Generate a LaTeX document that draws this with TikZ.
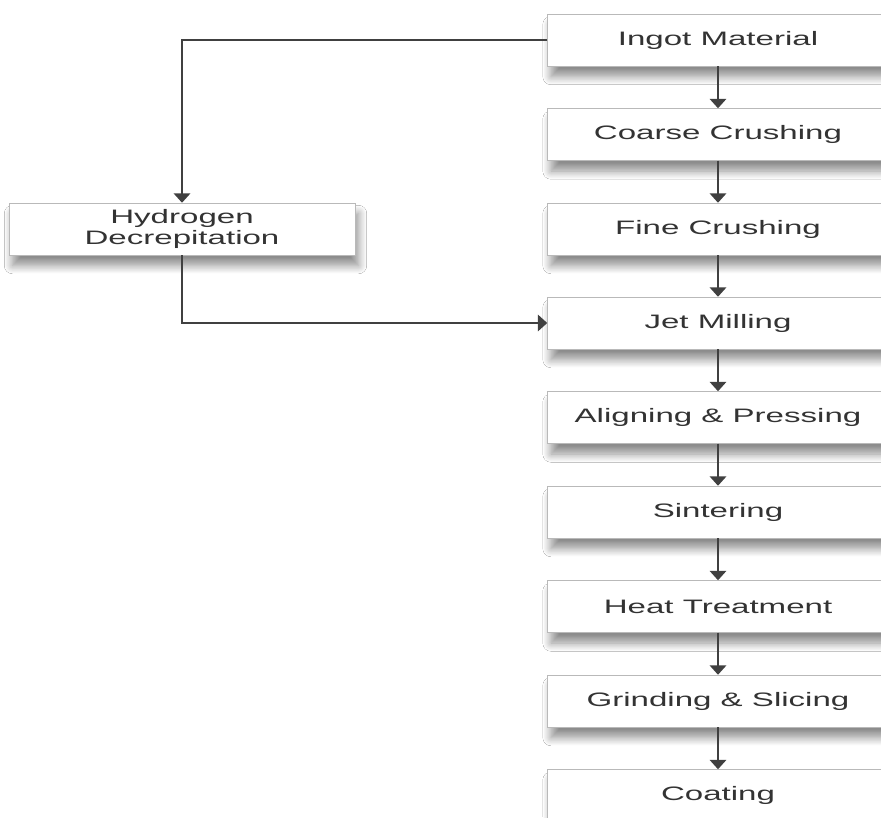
\documentclass[tikz,border=0pt]{standalone}
\usepackage{fontspec}
\setmainfont{Liberation Sans}[FakeStretch=1.7]
\usetikzlibrary{arrows.meta,shadows.blur}
\tikzset{
  stage/.style={draw=gray!55, fill=white, text=black!80, inner sep=0pt,
    minimum height=1.56cm, align=center,
    font=\fontsize{16.6}{18.5}\selectfont,
    blur shadow={shadow xshift=3pt, shadow yshift=-9pt,
      shadow blur radius=7pt, shadow blur steps=12, shadow opacity=45}},
  flow/.style={draw=black!75, line width=1.6pt,
    -{Triangle[width=14pt,length=8pt]}}
}
\begin{document}
\begin{tikzpicture}[x=0.03cm,y=-0.03cm]
  \useasboundingbox[fill=white] (0,0) rectangle (881,817);
  \node[stage,minimum width=10.23cm] (ingot) at (718,40) {Ingot Material};
  \node[stage,minimum width=10.23cm] (coarse) at (718,134.5) {Coarse Crushing};
  \node[stage,minimum width=10.23cm] (fine) at (718,229) {Fine Crushing};
  \node[stage,minimum width=10.23cm] (jet) at (718,323) {Jet Milling};
  \node[stage,minimum width=10.23cm] (align) at (718,417.5) {Aligning \& Pressing};
  \node[stage,minimum width=10.23cm] (sinter) at (718,512) {Sintering};
  \node[stage,minimum width=10.23cm] (heat) at (718,606.5) {Heat Treatment};
  \node[stage,minimum width=10.23cm] (grind) at (718,701) {Grinding \& Slicing};
  \node[stage,minimum width=10.23cm] (coat) at (718,795.5) {Coating};
  \node[stage,minimum width=10.38cm] (hydro) at (182,229) {Hydrogen\\Decrepitation};
  \draw[flow] (ingot) -- (coarse);
  \draw[flow] (coarse) -- (fine);
  \draw[flow] (fine) -- (jet);
  \draw[flow] (jet) -- (align);
  \draw[flow] (align) -- (sinter);
  \draw[flow] (sinter) -- (heat);
  \draw[flow] (heat) -- (grind);
  \draw[flow] (grind) -- (coat);
  \draw[flow] (ingot.west) -| (hydro.north);
  \draw[flow] (hydro.south) |- (jet.west);
\end{tikzpicture}
\end{document}
